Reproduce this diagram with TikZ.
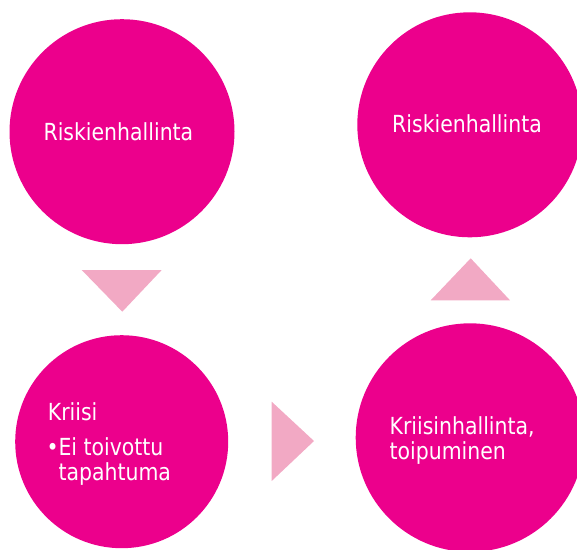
\documentclass[tikz,border=0pt]{standalone}
\usepackage{fontspec}
\usepackage{xcolor}
\usetikzlibrary{positioning}
\definecolor{PhaseMagenta}{RGB}{236,0,140}
\definecolor{ArrowPink}{RGB}{242,169,196}
\newfontfamily\phasefont{DejaVu Sans}[FakeStretch=0.87]

\begin{document}
\begin{tikzpicture}[x=1pt, y=-1pt]
    \tikzset{
        phase/.style={circle, fill=PhaseMagenta, draw=none, inner sep=0pt},
        phasetext/.style={text=white, inner sep=0pt,
            font=\phasefont\fontsize{23.5}{24}\selectfont},
        flowtri/.style={fill=ArrowPink, draw=none}
    }
    \useasboundingbox (0,0) rectangle (577,549);
    \node[phase, minimum size=225pt] (riskA) at (122,131.7) {};
    \node[phase, minimum size=213pt] (crisis) at (121.7,441.7) {};
    \node[phase, minimum size=228.6pt] (recovery) at (470,437.6) {};
    \node[phase, minimum size=225pt] (riskB) at (469.8,124.8) {};
    \node[phasetext, anchor=base west] (riskAtext) at (43.4,140) {Riskienhallinta};
    \node[phasetext, anchor=base west] (riskBtext) at (392,132.7) {Riskienhallinta};
    \node[phasetext, anchor=base west] (crisistext) at (47.7,420) {Kriisi};
    \node[phasetext, anchor=base west] (bullet) at (46.5,455) {•};
    \node[phasetext, anchor=base west] (eventA) at (58.3,455) {Ei toivottu};
    \node[phasetext, anchor=base west] (eventB) at (58.3,480) {tapahtuma};
    \node[phasetext, anchor=base west] (recoveryA) at (389.4,434.2) {Kriisinhallinta,};
    \node[phasetext, anchor=base west] (recoveryB) at (389.4,459.7) {toipuminen};
    % flow triangles
    \fill[flowtri] (81.7,270) -- (161.7,270) -- (122.3,311.7) -- cycle;
    \fill[flowtri] (271.7,401.7) -- (314,441) -- (271.7,481) -- cycle;
    \fill[flowtri] (430.7,300.3) -- (470.7,258.3) -- (510,300.3) -- cycle;
\end{tikzpicture}
\end{document}
